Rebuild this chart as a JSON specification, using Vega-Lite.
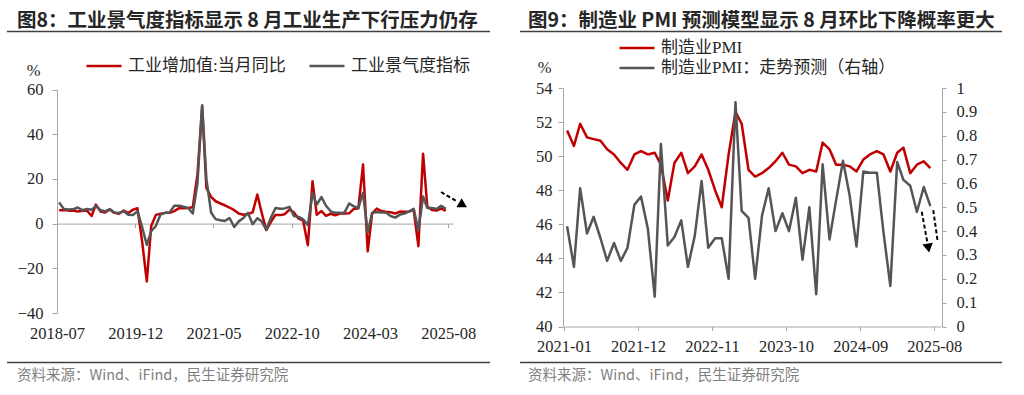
{
  "$schema": "https://vega.github.io/schema/vega-lite/v6.json",
  "width": 1024,
  "height": 395,
  "autosize": {"type": "none"},
  "padding": 0,
  "background": "#ffffff",
  "config": {
    "view": {"stroke": null},
    "axis": {"grid": false, "labelFont": "Liberation Serif", "labelFontSize": 16.5, "labelColor": "#262626", "domainColor": "#a6a6a6", "tickColor": "#a6a6a6", "domainWidth": 1, "tickWidth": 1, "labelOverlap": false, "labelFlush": false, "titleFont": "Liberation Serif", "titleFontSize": 16.5, "titleFontWeight": "normal", "titleColor": "#262626"},
    "legend": {"orient": "none", "title": null, "padding": 0, "offset": 0, "symbolType": "stroke", "symbolSize": 1225, "symbolStrokeWidth": 2.5, "labelFont": "Liberation Serif, Noto Sans CJK SC", "labelFontSize": 17, "labelColor": "#262626", "labelOffset": 5, "clipHeight": 20, "labelLimit": 400}
  },
  "datasets": {
    "ind": [
      {"d":"2018-07-15","s":"工业增加值:当月同比","v":6.0},{"d":"2018-08-15","s":"工业增加值:当月同比","v":6.1},{"d":"2018-09-15","s":"工业增加值:当月同比","v":5.8},{"d":"2018-10-15","s":"工业增加值:当月同比","v":5.9},{"d":"2018-11-15","s":"工业增加值:当月同比","v":5.4},{"d":"2018-12-15","s":"工业增加值:当月同比","v":5.7},
      {"d":"2019-01-15","s":"工业增加值:当月同比","v":5.8},{"d":"2019-02-15","s":"工业增加值:当月同比","v":3.4},{"d":"2019-03-15","s":"工业增加值:当月同比","v":8.5},{"d":"2019-04-15","s":"工业增加值:当月同比","v":5.4},{"d":"2019-05-15","s":"工业增加值:当月同比","v":5.0},{"d":"2019-06-15","s":"工业增加值:当月同比","v":6.3},{"d":"2019-07-15","s":"工业增加值:当月同比","v":4.8},{"d":"2019-08-15","s":"工业增加值:当月同比","v":4.4},{"d":"2019-09-15","s":"工业增加值:当月同比","v":5.8},{"d":"2019-10-15","s":"工业增加值:当月同比","v":4.7},{"d":"2019-11-15","s":"工业增加值:当月同比","v":6.2},{"d":"2019-12-15","s":"工业增加值:当月同比","v":6.9},
      {"d":"2020-01-15","s":"工业增加值:当月同比","v":-8},{"d":"2020-02-15","s":"工业增加值:当月同比","v":-25.9},{"d":"2020-03-15","s":"工业增加值:当月同比","v":-1.1},{"d":"2020-04-15","s":"工业增加值:当月同比","v":3.9},{"d":"2020-05-15","s":"工业增加值:当月同比","v":4.4},{"d":"2020-06-15","s":"工业增加值:当月同比","v":4.8},{"d":"2020-07-15","s":"工业增加值:当月同比","v":4.8},{"d":"2020-08-15","s":"工业增加值:当月同比","v":5.6},{"d":"2020-09-15","s":"工业增加值:当月同比","v":6.9},{"d":"2020-10-15","s":"工业增加值:当月同比","v":6.9},{"d":"2020-11-15","s":"工业增加值:当月同比","v":7.0},{"d":"2020-12-15","s":"工业增加值:当月同比","v":7.3},
      {"d":"2021-01-15","s":"工业增加值:当月同比","v":22},{"d":"2021-02-15","s":"工业增加值:当月同比","v":52.5},{"d":"2021-03-15","s":"工业增加值:当月同比","v":16},{"d":"2021-04-15","s":"工业增加值:当月同比","v":12},{"d":"2021-05-15","s":"工业增加值:当月同比","v":10},{"d":"2021-06-15","s":"工业增加值:当月同比","v":9},{"d":"2021-07-15","s":"工业增加值:当月同比","v":8.2},{"d":"2021-08-15","s":"工业增加值:当月同比","v":7.2},{"d":"2021-09-15","s":"工业增加值:当月同比","v":6.0},{"d":"2021-10-15","s":"工业增加值:当月同比","v":4.5},{"d":"2021-11-15","s":"工业增加值:当月同比","v":4.0},{"d":"2021-12-15","s":"工业增加值:当月同比","v":4.3},
      {"d":"2022-01-15","s":"工业增加值:当月同比","v":5},{"d":"2022-02-15","s":"工业增加值:当月同比","v":13},{"d":"2022-03-15","s":"工业增加值:当月同比","v":5.0},{"d":"2022-04-15","s":"工业增加值:当月同比","v":-2.9},{"d":"2022-05-15","s":"工业增加值:当月同比","v":0.7},{"d":"2022-06-15","s":"工业增加值:当月同比","v":3.9},{"d":"2022-07-15","s":"工业增加值:当月同比","v":3.8},{"d":"2022-08-15","s":"工业增加值:当月同比","v":4.2},{"d":"2022-09-15","s":"工业增加值:当月同比","v":6.3},{"d":"2022-10-15","s":"工业增加值:当月同比","v":5.0},{"d":"2022-11-15","s":"工业增加值:当月同比","v":2.2},{"d":"2022-12-15","s":"工业增加值:当月同比","v":1.3},
      {"d":"2023-01-15","s":"工业增加值:当月同比","v":-9.7},{"d":"2023-02-15","s":"工业增加值:当月同比","v":19},{"d":"2023-03-15","s":"工业增加值:当月同比","v":3.9},{"d":"2023-04-15","s":"工业增加值:当月同比","v":5.6},{"d":"2023-05-15","s":"工业增加值:当月同比","v":3.5},{"d":"2023-06-15","s":"工业增加值:当月同比","v":4.4},{"d":"2023-07-15","s":"工业增加值:当月同比","v":3.7},{"d":"2023-08-15","s":"工业增加值:当月同比","v":4.5},{"d":"2023-09-15","s":"工业增加值:当月同比","v":4.5},{"d":"2023-10-15","s":"工业增加值:当月同比","v":4.6},{"d":"2023-11-15","s":"工业增加值:当月同比","v":6.6},{"d":"2023-12-15","s":"工业增加值:当月同比","v":6.8},
      {"d":"2024-01-15","s":"工业增加值:当月同比","v":26.4},{"d":"2024-02-15","s":"工业增加值:当月同比","v":-12.4},{"d":"2024-03-15","s":"工业增加值:当月同比","v":4.5},{"d":"2024-04-15","s":"工业增加值:当月同比","v":6.7},{"d":"2024-05-15","s":"工业增加值:当月同比","v":5.6},{"d":"2024-06-15","s":"工业增加值:当月同比","v":5.3},{"d":"2024-07-15","s":"工业增加值:当月同比","v":5.1},{"d":"2024-08-15","s":"工业增加值:当月同比","v":4.5},{"d":"2024-09-15","s":"工业增加值:当月同比","v":5.4},{"d":"2024-10-15","s":"工业增加值:当月同比","v":5.3},{"d":"2024-11-15","s":"工业增加值:当月同比","v":5.4},{"d":"2024-12-15","s":"工业增加值:当月同比","v":6.2},
      {"d":"2025-01-15","s":"工业增加值:当月同比","v":-10.1},{"d":"2025-02-15","s":"工业增加值:当月同比","v":31.3},{"d":"2025-03-15","s":"工业增加值:当月同比","v":7.7},{"d":"2025-04-15","s":"工业增加值:当月同比","v":6.1},{"d":"2025-05-15","s":"工业增加值:当月同比","v":5.8},{"d":"2025-06-15","s":"工业增加值:当月同比","v":6.8},{"d":"2025-07-15","s":"工业增加值:当月同比","v":5.7},
      {"d":"2018-07-15","s":"工业景气度指标","v":9.5},{"d":"2018-08-15","s":"工业景气度指标","v":6.5},{"d":"2018-09-15","s":"工业景气度指标","v":6.3},{"d":"2018-10-15","s":"工业景气度指标","v":6.4},{"d":"2018-11-15","s":"工业景气度指标","v":7.2},{"d":"2018-12-15","s":"工业景气度指标","v":6.0},
      {"d":"2019-01-15","s":"工业景气度指标","v":6.5},{"d":"2019-02-15","s":"工业景气度指标","v":6.2},{"d":"2019-03-15","s":"工业景气度指标","v":7.8},{"d":"2019-04-15","s":"工业景气度指标","v":6.0},{"d":"2019-05-15","s":"工业景气度指标","v":5.5},{"d":"2019-06-15","s":"工业景气度指标","v":6.5},{"d":"2019-07-15","s":"工业景气度指标","v":5.0},{"d":"2019-08-15","s":"工业景气度指标","v":4.8},{"d":"2019-09-15","s":"工业景气度指标","v":5.5},{"d":"2019-10-15","s":"工业景气度指标","v":4.0},{"d":"2019-11-15","s":"工业景气度指标","v":3.8},{"d":"2019-12-15","s":"工业景气度指标","v":5.5},
      {"d":"2020-01-15","s":"工业景气度指标","v":-1.5},{"d":"2020-02-15","s":"工业景气度指标","v":-9.5},{"d":"2020-03-15","s":"工业景气度指标","v":-3.4},{"d":"2020-04-15","s":"工业景气度指标","v":-1.0},{"d":"2020-05-15","s":"工业景气度指标","v":4.0},{"d":"2020-06-15","s":"工业景气度指标","v":4.8},{"d":"2020-07-15","s":"工业景气度指标","v":5.0},{"d":"2020-08-15","s":"工业景气度指标","v":8.0},{"d":"2020-09-15","s":"工业景气度指标","v":8.0},{"d":"2020-10-15","s":"工业景气度指标","v":7.5},{"d":"2020-11-15","s":"工业景气度指标","v":7.0},{"d":"2020-12-15","s":"工业景气度指标","v":4.5},
      {"d":"2021-01-15","s":"工业景气度指标","v":18},{"d":"2021-02-15","s":"工业景气度指标","v":53},{"d":"2021-03-15","s":"工业景气度指标","v":20},{"d":"2021-04-15","s":"工业景气度指标","v":5.0},{"d":"2021-05-15","s":"工业景气度指标","v":2.0},{"d":"2021-06-15","s":"工业景气度指标","v":1.5},{"d":"2021-07-15","s":"工业景气度指标","v":1.2},{"d":"2021-08-15","s":"工业景气度指标","v":2.5},{"d":"2021-09-15","s":"工业景气度指标","v":-1.5},{"d":"2021-10-15","s":"工业景气度指标","v":1.0},{"d":"2021-11-15","s":"工业景气度指标","v":2.5},{"d":"2021-12-15","s":"工业景气度指标","v":4.8},
      {"d":"2022-01-15","s":"工业景气度指标","v":-0.3},{"d":"2022-02-15","s":"工业景气度指标","v":2.4},{"d":"2022-03-15","s":"工业景气度指标","v":1.0},{"d":"2022-04-15","s":"工业景气度指标","v":-2.7},{"d":"2022-05-15","s":"工业景气度指标","v":2.5},{"d":"2022-06-15","s":"工业景气度指标","v":7.0},{"d":"2022-07-15","s":"工业景气度指标","v":6.6},{"d":"2022-08-15","s":"工业景气度指标","v":6.8},{"d":"2022-09-15","s":"工业景气度指标","v":7.5},{"d":"2022-10-15","s":"工业景气度指标","v":3.4},{"d":"2022-11-15","s":"工业景气度指标","v":3.0},{"d":"2022-12-15","s":"工业景气度指标","v":1.9},
      {"d":"2023-01-15","s":"工业景气度指标","v":-0.7},{"d":"2023-02-15","s":"工业景气度指标","v":13.7},{"d":"2023-03-15","s":"工业景气度指标","v":8.5},{"d":"2023-04-15","s":"工业景气度指标","v":11.9},{"d":"2023-05-15","s":"工业景气度指标","v":8.0},{"d":"2023-06-15","s":"工业景气度指标","v":5.5},{"d":"2023-07-15","s":"工业景气度指标","v":4.8},{"d":"2023-08-15","s":"工业景气度指标","v":4.8},{"d":"2023-09-15","s":"工业景气度指标","v":5.0},{"d":"2023-10-15","s":"工业景气度指标","v":9.0},{"d":"2023-11-15","s":"工业景气度指标","v":7.7},{"d":"2023-12-15","s":"工业景气度指标","v":7.0},
      {"d":"2024-01-15","s":"工业景气度指标","v":13.7},{"d":"2024-02-15","s":"工业景气度指标","v":-4},{"d":"2024-03-15","s":"工业景气度指标","v":4.8},{"d":"2024-04-15","s":"工业景气度指标","v":5.2},{"d":"2024-05-15","s":"工业景气度指标","v":5.0},{"d":"2024-06-15","s":"工业景气度指标","v":5.0},{"d":"2024-07-15","s":"工业景气度指标","v":3.4},{"d":"2024-08-15","s":"工业景气度指标","v":2.7},{"d":"2024-09-15","s":"工业景气度指标","v":4.0},{"d":"2024-10-15","s":"工业景气度指标","v":4.5},{"d":"2024-11-15","s":"工业景气度指标","v":5.5},{"d":"2024-12-15","s":"工业景气度指标","v":6.6},
      {"d":"2025-01-15","s":"工业景气度指标","v":-3},{"d":"2025-02-15","s":"工业景气度指标","v":12.1},{"d":"2025-03-15","s":"工业景气度指标","v":7.0},{"d":"2025-04-15","s":"工业景气度指标","v":7.0},{"d":"2025-05-15","s":"工业景气度指标","v":6.5},{"d":"2025-06-15","s":"工业景气度指标","v":8.0},{"d":"2025-07-15","s":"工业景气度指标","v":6.6}
    ],
    "pmi": [
      {"d":"2021-01-15","s":"制造业PMI","v":51.5},{"d":"2021-02-15","s":"制造业PMI","v":50.6},{"d":"2021-03-15","s":"制造业PMI","v":51.9},{"d":"2021-04-15","s":"制造业PMI","v":51.1},{"d":"2021-05-15","s":"制造业PMI","v":51.0},{"d":"2021-06-15","s":"制造业PMI","v":50.9},{"d":"2021-07-15","s":"制造业PMI","v":50.4},{"d":"2021-08-15","s":"制造业PMI","v":50.1},{"d":"2021-09-15","s":"制造业PMI","v":49.6},{"d":"2021-10-15","s":"制造业PMI","v":49.2},{"d":"2021-11-15","s":"制造业PMI","v":50.1},{"d":"2021-12-15","s":"制造业PMI","v":50.3},
      {"d":"2022-01-15","s":"制造业PMI","v":50.1},{"d":"2022-02-15","s":"制造业PMI","v":50.2},{"d":"2022-03-15","s":"制造业PMI","v":49.5},{"d":"2022-04-15","s":"制造业PMI","v":47.4},{"d":"2022-05-15","s":"制造业PMI","v":49.6},{"d":"2022-06-15","s":"制造业PMI","v":50.2},{"d":"2022-07-15","s":"制造业PMI","v":49.0},{"d":"2022-08-15","s":"制造业PMI","v":49.4},{"d":"2022-09-15","s":"制造业PMI","v":50.1},{"d":"2022-10-15","s":"制造业PMI","v":49.2},{"d":"2022-11-15","s":"制造业PMI","v":48.0},{"d":"2022-12-15","s":"制造业PMI","v":47.0},
      {"d":"2023-01-15","s":"制造业PMI","v":50.1},{"d":"2023-02-15","s":"制造业PMI","v":52.6},{"d":"2023-03-15","s":"制造业PMI","v":51.9},{"d":"2023-04-15","s":"制造业PMI","v":49.2},{"d":"2023-05-15","s":"制造业PMI","v":48.8},{"d":"2023-06-15","s":"制造业PMI","v":49.0},{"d":"2023-07-15","s":"制造业PMI","v":49.3},{"d":"2023-08-15","s":"制造业PMI","v":49.7},{"d":"2023-09-15","s":"制造业PMI","v":50.2},{"d":"2023-10-15","s":"制造业PMI","v":49.5},{"d":"2023-11-15","s":"制造业PMI","v":49.4},{"d":"2023-12-15","s":"制造业PMI","v":49.0},
      {"d":"2024-01-15","s":"制造业PMI","v":49.2},{"d":"2024-02-15","s":"制造业PMI","v":49.1},{"d":"2024-03-15","s":"制造业PMI","v":50.8},{"d":"2024-04-15","s":"制造业PMI","v":50.4},{"d":"2024-05-15","s":"制造业PMI","v":49.5},{"d":"2024-06-15","s":"制造业PMI","v":49.5},{"d":"2024-07-15","s":"制造业PMI","v":49.4},{"d":"2024-08-15","s":"制造业PMI","v":49.1},{"d":"2024-09-15","s":"制造业PMI","v":49.8},{"d":"2024-10-15","s":"制造业PMI","v":50.1},{"d":"2024-11-15","s":"制造业PMI","v":50.3},{"d":"2024-12-15","s":"制造业PMI","v":50.1},
      {"d":"2025-01-15","s":"制造业PMI","v":49.1},{"d":"2025-02-15","s":"制造业PMI","v":50.2},{"d":"2025-03-15","s":"制造业PMI","v":50.5},{"d":"2025-04-15","s":"制造业PMI","v":49.0},{"d":"2025-05-15","s":"制造业PMI","v":49.5},{"d":"2025-06-15","s":"制造业PMI","v":49.7},{"d":"2025-07-15","s":"制造业PMI","v":49.3},
      {"d":"2021-01-15","s":"制造业PMI：走势预测（右轴）","v":0.42},{"d":"2021-02-15","s":"制造业PMI：走势预测（右轴）","v":0.25},{"d":"2021-03-15","s":"制造业PMI：走势预测（右轴）","v":0.58},{"d":"2021-04-15","s":"制造业PMI：走势预测（右轴）","v":0.39},{"d":"2021-05-15","s":"制造业PMI：走势预测（右轴）","v":0.46},{"d":"2021-06-15","s":"制造业PMI：走势预测（右轴）","v":0.37},{"d":"2021-07-15","s":"制造业PMI：走势预测（右轴）","v":0.275},{"d":"2021-08-15","s":"制造业PMI：走势预测（右轴）","v":0.35},{"d":"2021-09-15","s":"制造业PMI：走势预测（右轴）","v":0.275},{"d":"2021-10-15","s":"制造业PMI：走势预测（右轴）","v":0.33},{"d":"2021-11-15","s":"制造业PMI：走势预测（右轴）","v":0.51},{"d":"2021-12-15","s":"制造业PMI：走势预测（右轴）","v":0.545},
      {"d":"2022-01-15","s":"制造业PMI：走势预测（右轴）","v":0.41},{"d":"2022-02-15","s":"制造业PMI：走势预测（右轴）","v":0.125},{"d":"2022-03-15","s":"制造业PMI：走势预测（右轴）","v":0.765},{"d":"2022-04-15","s":"制造业PMI：走势预测（右轴）","v":0.34},{"d":"2022-05-15","s":"制造业PMI：走势预测（右轴）","v":0.375},{"d":"2022-06-15","s":"制造业PMI：走势预测（右轴）","v":0.445},{"d":"2022-07-15","s":"制造业PMI：走势预测（右轴）","v":0.25},{"d":"2022-08-15","s":"制造业PMI：走势预测（右轴）","v":0.38},{"d":"2022-09-15","s":"制造业PMI：走势预测（右轴）","v":0.61},{"d":"2022-10-15","s":"制造业PMI：走势预测（右轴）","v":0.33},{"d":"2022-11-15","s":"制造业PMI：走势预测（右轴）","v":0.37},{"d":"2022-12-15","s":"制造业PMI：走势预测（右轴）","v":0.37},
      {"d":"2023-01-15","s":"制造业PMI：走势预测（右轴）","v":0.2},{"d":"2023-02-15","s":"制造业PMI：走势预测（右轴）","v":0.94},{"d":"2023-03-15","s":"制造业PMI：走势预测（右轴）","v":0.485},{"d":"2023-04-15","s":"制造业PMI：走势预测（右轴）","v":0.455},{"d":"2023-05-15","s":"制造业PMI：走势预测（右轴）","v":0.2},{"d":"2023-06-15","s":"制造业PMI：走势预测（右轴）","v":0.465},{"d":"2023-07-15","s":"制造业PMI：走势预测（右轴）","v":0.58},{"d":"2023-08-15","s":"制造业PMI：走势预测（右轴）","v":0.40},{"d":"2023-09-15","s":"制造业PMI：走势预测（右轴）","v":0.475},{"d":"2023-10-15","s":"制造业PMI：走势预测（右轴）","v":0.40},{"d":"2023-11-15","s":"制造业PMI：走势预测（右轴）","v":0.54},{"d":"2023-12-15","s":"制造业PMI：走势预测（右轴）","v":0.28},
      {"d":"2024-01-15","s":"制造业PMI：走势预测（右轴）","v":0.50},{"d":"2024-02-15","s":"制造业PMI：走势预测（右轴）","v":0.135},{"d":"2024-03-15","s":"制造业PMI：走势预测（右轴）","v":0.68},{"d":"2024-04-15","s":"制造业PMI：走势预测（右轴）","v":0.365},{"d":"2024-05-15","s":"制造业PMI：走势预测（右轴）","v":0.53},{"d":"2024-06-15","s":"制造业PMI：走势预测（右轴）","v":0.695},{"d":"2024-07-15","s":"制造业PMI：走势预测（右轴）","v":0.55},{"d":"2024-08-15","s":"制造业PMI：走势预测（右轴）","v":0.335},{"d":"2024-09-15","s":"制造业PMI：走势预测（右轴）","v":0.65},{"d":"2024-10-15","s":"制造业PMI：走势预测（右轴）","v":0.645},{"d":"2024-11-15","s":"制造业PMI：走势预测（右轴）","v":0.645},{"d":"2024-12-15","s":"制造业PMI：走势预测（右轴）","v":0.395},
      {"d":"2025-01-15","s":"制造业PMI：走势预测（右轴）","v":0.17},{"d":"2025-02-15","s":"制造业PMI：走势预测（右轴）","v":0.69},{"d":"2025-03-15","s":"制造业PMI：走势预测（右轴）","v":0.615},{"d":"2025-04-15","s":"制造业PMI：走势预测（右轴）","v":0.59},{"d":"2025-05-15","s":"制造业PMI：走势预测（右轴）","v":0.48},{"d":"2025-06-15","s":"制造业PMI：走势预测（右轴）","v":0.585},{"d":"2025-07-15","s":"制造业PMI：走势预测（右轴）","v":0.505}
    ]
  },
  "layer": [
    {
      "layer": [
        {
          "data": {"name": "ind"},
          "mark": {"type": "line", "strokeWidth": 2.5, "strokeJoin": "round"},
          "encoding": {
            "x": {"field": "d", "type": "temporal",
              "scale": {"domain": [{"year": 2018, "month": 7, "date": 1}, {"year": 2025, "month": 9, "date": 1}], "range": [57, 453]},
              "axis": {"orient": "bottom", "values": [{"year": 2018, "month": 7, "date": 1}, {"year": 2019, "month": 12, "date": 1}, {"year": 2021, "month": 5, "date": 1}, {"year": 2022, "month": 10, "date": 1}, {"year": 2024, "month": 3, "date": 1}, {"year": 2025, "month": 8, "date": 1}], "format": "%Y-%m", "offset": -171.4, "tickSize": 4, "labelPadding": 98, "labelOverlap": false, "title": null}},
            "y": {"field": "v", "type": "quantitative",
              "scale": {"domain": [-40, 60], "range": [313, 89.5], "nice": false, "zero": false},
              "axis": {"orient": "left", "values": [-40, -20, 0, 20, 40, 60], "offset": -57, "tickSize": 5, "labelPadding": 9, "labelOverlap": false, "title": "%", "titleAngle": 0, "titleX": -24, "titleY": 70, "titleAlign": "center", "titleBaseline": "middle"}},
            "color": {"field": "s", "type": "nominal",
              "scale": {"domain": ["工业增加值:当月同比", "工业景气度指标"], "range": ["#C00000", "#555555"]},
              "legend": {"direction": "horizontal", "legendX": 85, "legendY": 56, "columnPadding": 22}}
          }
        },
        {
          "data": {"values": [{}]},
          "mark": {"type": "rule", "color": "#000000", "strokeWidth": 2, "strokeDash": [4, 2.5]},
          "encoding": {
            "x": {"datum": {"year": 2025, "month": 6, "date": 14}, "type": "temporal"},
            "x2": {"datum": {"year": 2025, "month": 9, "date": 27}},
            "y": {"datum": 14.14, "type": "quantitative"},
            "y2": {"datum": 9.89}
          }
        },
        {
          "data": {"values": [{}]},
          "mark": {"type": "point", "shape": "triangle-right", "filled": true, "color": "#000000", "opacity": 1, "size": 110, "angle": 30},
          "encoding": {
            "x": {"datum": {"year": 2025, "month": 11, "date": 6}, "type": "temporal"},
            "y": {"datum": 8.32, "type": "quantitative"}
          }
        },
        {
          "data": {"values": [{"t": "图8：工业景气度指标显示 8 月工业生产下行压力仍存"}]},
          "mark": {"type": "text", "align": "left", "baseline": "middle", "font": "Noto Sans CJK SC", "fontSize": 19.5, "fontWeight": "bold", "color": "#262626"},
          "encoding": {
            "x": {"datum": {"year": 2017, "month": 10, "date": 9}, "type": "temporal"},
            "y": {"datum": 90.65, "type": "quantitative"},
            "text": {"field": "t"}
          }
        },
        {
          "data": {"values": [{}]},
          "mark": {"type": "rule", "color": "#404040", "strokeWidth": 1.5},
          "encoding": {
            "x": {"datum": {"year": 2017, "month": 8, "date": 4}, "type": "temporal"},
            "x2": {"datum": {"year": 2026, "month": 5, "date": 4}},
            "y": {"datum": 85.95, "type": "quantitative"}
          }
        },
        {
          "data": {"values": [{}]},
          "mark": {"type": "rule", "color": "#404040", "strokeWidth": 1.5},
          "encoding": {
            "x": {"datum": {"year": 2017, "month": 8, "date": 4}, "type": "temporal"},
            "x2": {"datum": {"year": 2026, "month": 5, "date": 4}},
            "y": {"datum": -62.15, "type": "quantitative"}
          }
        },
        {
          "data": {"values": [{"t": "资料来源：Wind、iFind，民生证券研究院"}]},
          "mark": {"type": "text", "align": "left", "baseline": "middle", "font": "Noto Sans CJK SC", "fontSize": 14.5, "color": "#7f7f7f"},
          "encoding": {
            "x": {"datum": {"year": 2017, "month": 10, "date": 9}, "type": "temporal"},
            "y": {"datum": -68.41, "type": "quantitative"},
            "text": {"field": "t"}
          }
        }
      ]
    },
    {
      "layer": [
        {
          "data": {"name": "pmi"},
          "transform": [{"filter": "datum.s === '制造业PMI'"}],
          "mark": {"type": "line", "strokeWidth": 2.5, "strokeJoin": "round"},
          "encoding": {
            "x": {"field": "d", "type": "temporal",
              "scale": {"domain": [{"year": 2021, "month": 1, "date": 1}, {"year": 2025, "month": 9, "date": 1}], "range": [564, 941]},
              "axis": {"orient": "bottom", "values": [{"year": 2021, "month": 1, "date": 1}, {"year": 2021, "month": 12, "date": 1}, {"year": 2022, "month": 11, "date": 1}, {"year": 2023, "month": 10, "date": 1}, {"year": 2024, "month": 9, "date": 1}, {"year": 2025, "month": 8, "date": 1}], "format": "%Y-%m", "offset": -68.5, "tickSize": 4, "labelPadding": 7.5, "labelOverlap": false, "title": null}},
            "y": {"field": "v", "type": "quantitative",
              "scale": {"domain": [40, 54], "range": [326.5, 88], "nice": false, "zero": false},
              "axis": {"orient": "left", "values": [40, 42, 44, 46, 48, 50, 52, 54], "offset": -563, "tickSize": 5, "labelPadding": 6, "labelOverlap": false, "title": "%", "titleAngle": 0, "titleX": -19, "titleY": 67, "titleAlign": "center", "titleBaseline": "middle"}},
            "color": {"field": "s", "type": "nominal",
              "scale": {"domain": ["制造业PMI", "制造业PMI：走势预测（右轴）"], "range": ["#C00000", "#555555"]},
              "legend": {"direction": "vertical", "legendX": 618, "legendY": 38, "rowPadding": 0}}
          }
        },
        {
          "layer": [
            {
              "data": {"name": "pmi"},
              "transform": [{"filter": "datum.s === '制造业PMI：走势预测（右轴）'"}],
              "mark": {"type": "line", "strokeWidth": 2.5, "strokeJoin": "round"},
              "encoding": {
                "x": {"field": "d", "type": "temporal"},
                "y": {"field": "v", "type": "quantitative",
                  "scale": {"domain": [0, 1], "range": [326.5, 88], "nice": false, "zero": false},
                  "axis": {"orient": "right", "values": [0, 0.1, 0.2, 0.3, 0.4, 0.5, 0.6, 0.7, 0.8, 0.9, 1], "tickCount": 11, "format": "~g", "offset": -82, "tickSize": 4, "labelPadding": 10, "labelOverlap": false, "labelSeparation": 0, "title": null}},
                "color": {"field": "s", "type": "nominal"}
              }
            },
            {
              "data": {"values": [{}]},
              "mark": {"type": "rule", "color": "#000000", "strokeWidth": 2, "strokeDash": [4, 2.5]},
              "encoding": {
                "x": {"datum": {"year": 2025, "month": 6, "date": 6}, "type": "temporal"},
                "x2": {"datum": {"year": 2025, "month": 7, "date": 1}},
                "y": {"datum": 0.481, "type": "quantitative"},
                "y2": {"datum": 0.354}
              }
            },
            {
              "data": {"values": [{}]},
              "mark": {"type": "rule", "color": "#000000", "strokeWidth": 2, "strokeDash": [4, 2.5]},
              "encoding": {
                "x": {"datum": {"year": 2025, "month": 7, "date": 28}, "type": "temporal"},
                "x2": {"datum": {"year": 2025, "month": 8, "date": 17}},
                "y": {"datum": 0.488, "type": "quantitative"},
                "y2": {"datum": 0.356}
              }
            },
            {
              "data": {"values": [{}]},
              "mark": {"type": "point", "shape": "triangle-down", "filled": true, "color": "#000000", "opacity": 1, "size": 110, "angle": 350},
              "encoding": {
                "x": {"datum": {"year": 2025, "month": 7, "date": 6}, "type": "temporal"},
                "y": {"datum": 0.329, "type": "quantitative"}
              }
            },
            {
              "data": {"values": [{"t": "图9：制造业 PMI 预测模型显示 8 月环比下降概率更大"}]},
              "mark": {"type": "text", "align": "left", "baseline": "middle", "font": "Noto Sans CJK SC", "fontSize": 19.5, "fontWeight": "bold", "color": "#262626"},
              "encoding": {
                "x": {"datum": {"year": 2020, "month": 7, "date": 22}, "type": "temporal"},
                "y": {"datum": 1.281, "type": "quantitative"},
                "text": {"field": "t"}
              }
            },
            {
              "data": {"values": [{}]},
              "mark": {"type": "rule", "color": "#404040", "strokeWidth": 1.5},
              "encoding": {
                "x": {"datum": {"year": 2020, "month": 6, "date": 16}, "type": "temporal"},
                "x2": {"datum": {"year": 2026, "month": 6, "date": 4}},
                "y": {"datum": 1.237, "type": "quantitative"}
              }
            },
            {
              "data": {"values": [{}]},
              "mark": {"type": "rule", "color": "#404040", "strokeWidth": 1.5},
              "encoding": {
                "x": {"datum": {"year": 2020, "month": 6, "date": 16}, "type": "temporal"},
                "x2": {"datum": {"year": 2026, "month": 6, "date": 4}},
                "y": {"datum": -0.151, "type": "quantitative"}
              }
            },
            {
              "data": {"values": [{"t": "资料来源：Wind、iFind，民生证券研究院"}]},
              "mark": {"type": "text", "align": "left", "baseline": "middle", "font": "Noto Sans CJK SC", "fontSize": 14.5, "color": "#7f7f7f"},
              "encoding": {
                "x": {"datum": {"year": 2020, "month": 7, "date": 22}, "type": "temporal"},
                "y": {"datum": -0.2096, "type": "quantitative"},
                "text": {"field": "t"}
              }
            }
          ]
        }
      ],
      "resolve": {"scale": {"y": "independent"}}
    }
  ],
  "resolve": {"scale": {"x": "independent", "y": "independent", "color": "independent"}}
}
